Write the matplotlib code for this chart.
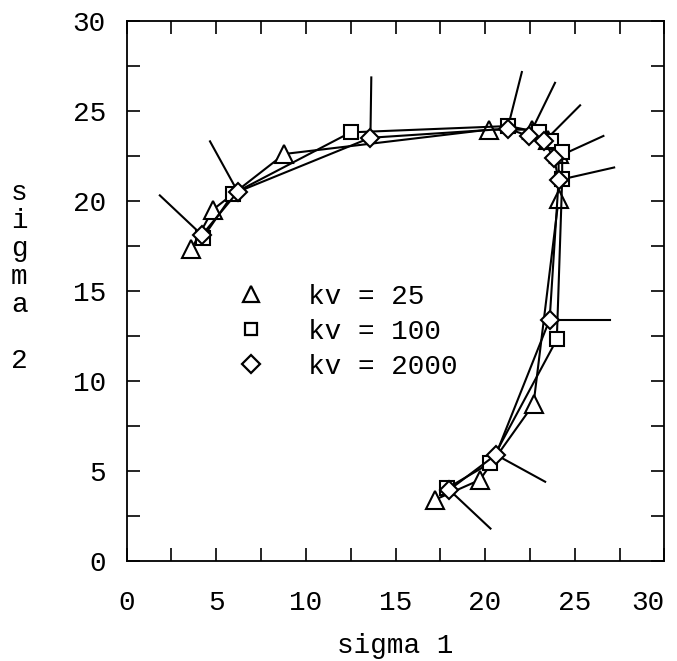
import matplotlib
matplotlib.use('Agg')
import matplotlib.pyplot as plt
from matplotlib.lines import Line2D
from matplotlib.ticker import MultipleLocator

plt.rcParams['font.family'] = ['Liberation Mono', 'DejaVu Sans Mono']

# kv = 25 (triangles)
tri_x = [3.6, 4.8, 8.8, 20.2, 22.6, 23.5, 24.1, 24.1, 22.7, 19.7, 17.2]
tri_y = [17.3, 19.5, 22.6, 23.95, 23.95, 23.4, 22.6, 20.1, 8.7, 4.5, 3.4]

# kv = 100 (squares)
sq_x = [4.25, 5.95, 12.5, 21.3, 23.0, 23.7, 24.3, 24.3, 24.0, 20.3, 17.9]
sq_y = [17.95, 20.4, 23.8, 24.15, 23.8, 23.3, 22.7, 21.2, 12.3, 5.45, 4.05]

# kv = 2000 (diamonds)
dia_x = [4.2, 6.2, 13.6, 21.25, 22.45, 23.3, 23.85, 24.1, 23.6, 20.6, 18.0]
dia_y = [18.1, 20.5, 23.5, 24.0, 23.6, 23.3, 22.35, 21.15, 13.4, 5.9, 3.95]

# direction lines drawn from the kv = 2000 points
vec_x = [1.85, 4.65, 13.65, 22.05, 23.9, 25.3, 26.6, 27.2, 26.95, 23.35, 20.3]
vec_y = [20.3, 23.3, 26.85, 27.15, 26.55, 25.3, 23.6, 21.85, 13.4, 4.4, 1.8]

labels = ['kv = 25', 'kv = 100', 'kv = 2000']

fig = plt.figure(figsize=(6.77, 6.61), dpi=100)
ax = fig.add_axes([0.1871, 0.1513, 0.7942, 0.8174])

for x0, y0, x1, y1 in zip(dia_x, dia_y, vec_x, vec_y):
    ax.plot([x0, x1], [y0, y1], color='black', lw=1.5, zorder=1)

style = dict(color='black', lw=1.5, mfc='white', mec='black', mew=1.5, zorder=2)
ax.plot(tri_x, tri_y, marker='^', ms=13, **style)
ax.plot(sq_x, sq_y, marker='s', ms=10, **style)
ax.plot(dia_x, dia_y, marker='D', ms=9, **style)

handles = [
    Line2D([], [], ls='none', marker='^', ms=11, mfc='white', mec='black', mew=1.6),
    Line2D([], [], ls='none', marker='s', ms=9, mfc='white', mec='black', mew=1.6),
    Line2D([], [], ls='none', marker='D', ms=9, mfc='white', mec='black', mew=1.6),
]
ax.legend(handles, labels, loc='center left', bbox_to_anchor=(0.205, 0.424),
          frameon=False, fontsize=20, handlelength=1.0, handletextpad=1.57,
          labelspacing=0.32, borderpad=0, borderaxespad=0)

ax.set_xlim(0, 30)
ax.set_ylim(0, 30)
ax.xaxis.set_major_locator(MultipleLocator(5))
ax.yaxis.set_major_locator(MultipleLocator(5))
ax.xaxis.set_minor_locator(MultipleLocator(2.5))
ax.yaxis.set_minor_locator(MultipleLocator(2.5))
ax.tick_params(which='both', direction='in', length=9.5, width=1.2,
               top=True, right=True, labelsize=20)
ax.tick_params(axis='y', pad=15)
ax.tick_params(axis='x', pad=21)
for s in ax.spines.values():
    s.set_linewidth(1.3)

ax.set_xlabel('sigma 1', fontsize=20, labelpad=12)
ax.set_ylabel('s\ni\ng\nm\na\n\n2', fontsize=20, rotation=0,
              va='center', ha='center', linespacing=1.1)
ax.yaxis.set_label_coords(-0.1994, 0.5256)

# keep the "30" on the x axis inside the figure
fig.canvas.draw()
for tick in ax.xaxis.get_major_ticks():
    if abs(tick.get_loc() - 30) < 1e-6:
        tick.label1.set_horizontalalignment('right')

fig.savefig('out.png', dpi=100)
